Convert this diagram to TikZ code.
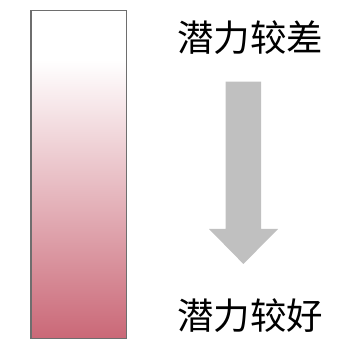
\documentclass[tikz,border=0pt]{standalone}
\usepackage{fontspec}
\newfontfamily\cjk{Noto Sans CJK SC}
\definecolor{barbot}{HTML}{CA6877}
\definecolor{arrowgray}{HTML}{C0C0C0}
\definecolor{framegray}{HTML}{6E6E6E}
\pgfdeclareverticalshading{barshade}{100bp}{
  color(0bp)=(barbot);
  color(25bp)=(barbot);
  color(46bp)=(barbot!50!white);
  color(67.5bp)=(white);
  color(100bp)=(white)}
\tikzset{
  lbl/.style={font=\cjk\fontsize{36.5}{40}\selectfont, inner sep=0pt, anchor=center},
}
\begin{document}
\begin{tikzpicture}[x=1pt,y=1pt]
\useasboundingbox (0,0) rectangle (343,347);
\node[draw=framegray, line width=1.3pt, shading=barshade, minimum width=95.5pt, minimum height=328pt, inner sep=0pt, anchor=north west] (bar) at (30.3,337) {};
\node[lbl] (top) at (250,309) {潜力较差};
\node[lbl] (bot) at (250,31.5) {潜力较好};
\fill[arrowgray] (225.7,265.3) -- (261,265.3) -- (261,118) -- (278,118) -- (243.4,83) -- (209,118) -- (225.7,118) -- cycle;
\end{tikzpicture}
\end{document}
